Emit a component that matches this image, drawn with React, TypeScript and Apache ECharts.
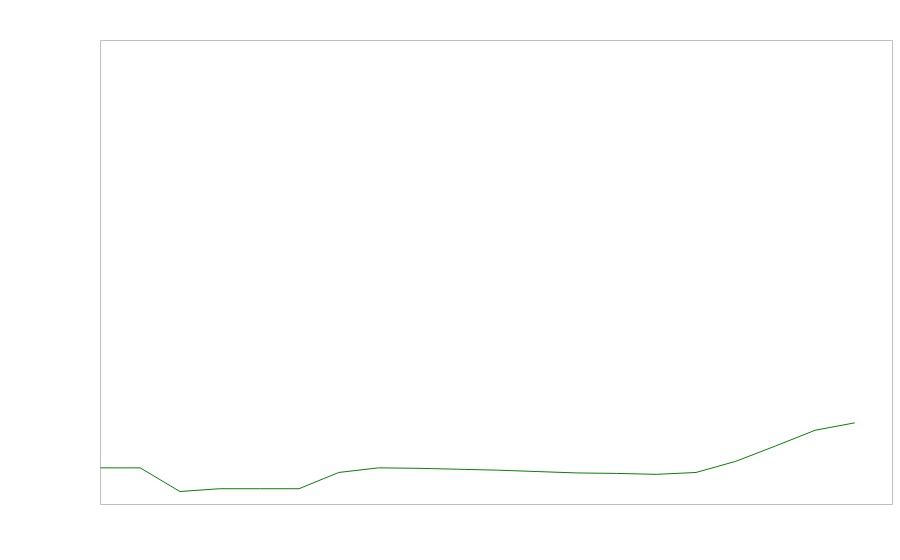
import React, { useEffect, useRef } from "react";
import * as echarts from "echarts";

const xPositions: number[] = [0, 1, 2, 3, 4, 5, 6, 7, 8, 9, 10, 11, 12, 13, 14, 15, 16, 17, 18, 19];
const values: number[] = [7.9, 7.9, 2.8, 3.4, 3.4, 3.4, 6.9, 7.9, 7.8, 7.6, 7.4, 7.1, 6.8, 6.7, 6.5, 6.9, 9.3, 12.6, 16.0, 17.6];

export default function App() {
  const ref = useRef<HTMLDivElement>(null);
  useEffect(() => {
    if (!ref.current) return;
    const chart = echarts.init(ref.current, undefined, { renderer: "svg" });
    chart.setOption({
      animation: false,
      backgroundColor: "#ffffff",
      grid: {
        left: 100.5,
        top: 40.5,
        right: 7.5,
        bottom: 55.5,
        show: true,
        borderColor: "#c0c0c0",
        borderWidth: 1,
        backgroundColor: "transparent",
      },
      xAxis: {
        type: "value",
        min: 0,
        max: 19.95,
        show: false,
        splitLine: { show: false },
      },
      yAxis: {
        type: "value",
        min: 0,
        max: 100,
        show: false,
        splitLine: { show: false },
      },
      series: [
        {
          type: "line",
          data: xPositions.map((x, i) => [x, values[i]]),
          showSymbol: false,
          symbol: "none",
          lineStyle: { color: "#0a800a", width: 1 },
          itemStyle: { color: "#0a800a" },
        },
      ],
    });
    return () => chart.dispose();
  }, []);
  return (
    <div
      ref={ref}
      style={{ position: "fixed", left: 0, top: 0, width: 900, height: 560 }}
    />
  );
}
